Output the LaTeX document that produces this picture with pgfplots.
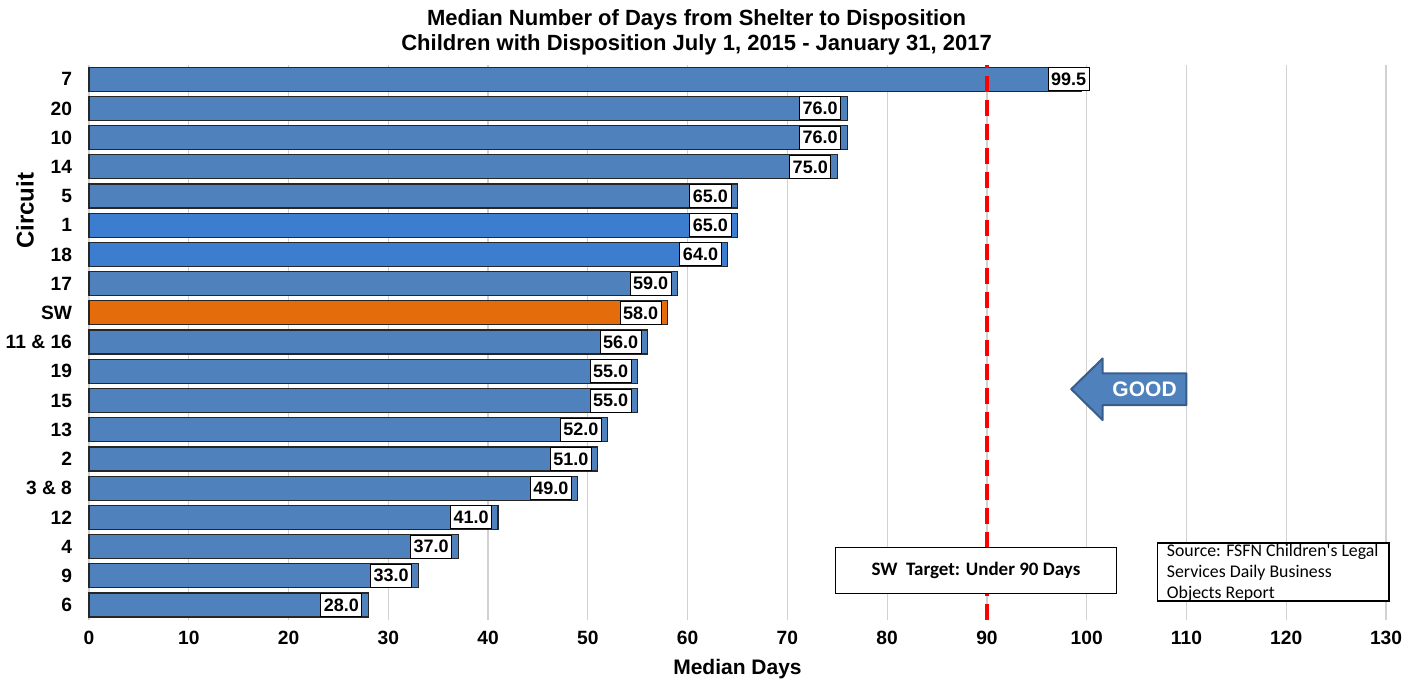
\documentclass[border=0pt]{standalone}
\usepackage{fontspec}
\setmainfont{Liberation Sans}
\newfontfamily\calibri{Carlito}
\usepackage{pgfplots}
\pgfplotsset{compat=1.18}
\definecolor{barblue}{HTML}{4F81BD}
\definecolor{brightblue}{HTML}{3C7DD0}
\definecolor{barorange}{HTML}{E46C0A}
\definecolor{arrowedge}{HTML}{385D8A}
\begin{document}
\begin{tikzpicture}
\begin{axis}[
  width=648.5pt, height=277.5pt, scale only axis,
  xmin=0, xmax=130, ymin=-0.5, ymax=18.5,
  xtick={0,10,...,130},
  ytick={0,...,18},
  yticklabels={6,9,4,12,3 \& 8,2,13,15,19,11 \& 16,SW,17,18,1,5,14,10,20,7},
  xmajorgrids, major grid style={draw=black!18, line width=0.6pt},
  axis line style={draw=none},
  major tick length=0pt,
  /pgf/number format/assume math mode=true,
  tick label style={font=\bfseries\fontsize{9.6}{12}\selectfont},
  yticklabel style={xshift=-5pt},
  xticklabel style={yshift=-2pt},
  xlabel={Median Days},
  label style={font=\bfseries\fontsize{10.5}{12}\selectfont},
  xlabel style={yshift=-0.5pt},
  clip=false,
  xbar, bar width=12pt, bar shift=0pt,
  nodes near coords={\pgfmathprintnumber[fixed,fixed zerofill,precision=1]{\pgfplotspointmeta}},
  nodes near coords style={anchor=east, xshift=-3pt, fill=white, draw=black, line width=0.5pt,
    inner sep=1.5pt, minimum height=11.5pt, font=\bfseries\fontsize{9}{10}\selectfont, text=black},
]
\addplot[fill=barblue, draw=black!85, line width=0.6pt] coordinates {
 (28,0) (33,1) (37,2) (41,3) (49,4) (51,5) (52,6) (55,7) (55,8) (56,9) (59,11) (65,14) (75,15) (76,16) (76,17)};
\addplot[fill=brightblue, draw=black!85, line width=0.6pt] coordinates {(64,12) (65,13)};
\addplot[fill=barorange, draw=black!85, line width=0.6pt] coordinates {(58,10)};
\addplot[fill=barblue, draw=black!85, line width=0.6pt,
  nodes near coords style={xshift=7pt}] coordinates {(99.5,18)};
\draw[red, line width=1.6pt, dash pattern=on 8pt off 4pt] (axis cs:90,-0.5) -- (axis cs:90,18.5);
% y label
\path (rel axis cs:0,0.71) ++(-32pt,0) node[rotate=90, font=\bfseries\fontsize{12}{14}\selectfont] {Circuit};
% target box
\draw[fill=white, line width=0.6pt] (axis cs:74.8,0.38) rectangle (axis cs:103,1.98);
\node[font=\calibri\bfseries\fontsize{9.5}{11}\selectfont] at (axis cs:88.9,1.18) {SW\ \ Target: Under 90 Days};
% source box
\draw[fill=white, line width=0.6pt] (axis cs:107.1,0.14) rectangle (axis cs:130.3,2.12);
\node[font=\calibri\fontsize{8.9}{10.4}\selectfont, anchor=north west, align=left, inner sep=0pt]
  at (axis cs:108.0,2.09) {Source: FSFN Children's Legal\\Services Daily Business\\Objects Report};
% GOOD arrow
\draw[fill=barblue, draw=arrowedge, line width=1pt, line join=round]
  (axis cs:98.45,7.39) -- (axis cs:101.6,8.44) -- (axis cs:101.6,7.93) -- (axis cs:110.0,7.93)
  -- (axis cs:110.0,6.84) -- (axis cs:101.6,6.84) -- (axis cs:101.6,6.33) -- cycle;
\node[text=white, font=\bfseries\fontsize{10.5}{12}\selectfont] at (axis cs:105.8,7.39) {GOOD};
% title
\node[font=\bfseries\fontsize{11}{12.5}\selectfont, align=center] at (axis cs:60.9,19.61)
  {Median Number of Days from Shelter to Disposition\\Children with Disposition July 1, 2015 - January 31, 2017};
\end{axis}
\pgfresetboundingbox
\path (current axis.south west) ++(-44.5pt,-29.7pt) rectangle ++(708.5pt,339.5pt);
\end{tikzpicture}
\end{document}
